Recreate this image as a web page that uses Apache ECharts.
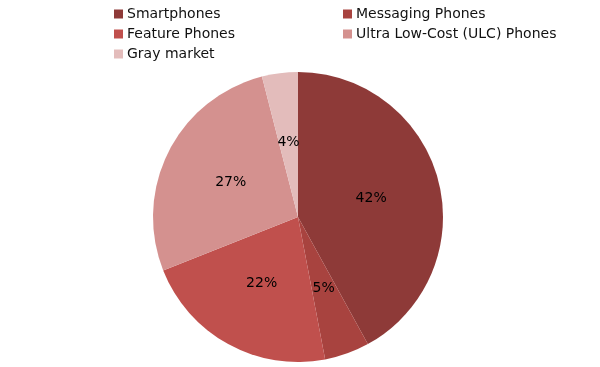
<!DOCTYPE html>
<html><head><meta charset="utf-8">
<script src="https://cdn.jsdelivr.net/npm/echarts@6/dist/echarts.min.js"></script>
<style>html,body{margin:0;padding:0;background:#fff}#c{width:600px;height:367px}</style>
</head><body><div id="c"></div>
<script>
const categories = ["Smartphones", "Messaging Phones", "Feature Phones", "Ultra Low-Cost (ULC) Phones", "Gray market"];
const values = [42, 5, 22, 27, 4];
const colors = ["#8E3A38", "#A8433F", "#C0504D", "#D4918F", "#E3BCBB"];
const legendCol1 = ["Smartphones", "Feature Phones", "Gray market"];
const legendCol2 = ["Messaging Phones", "Ultra Low-Cost (ULC) Phones"];

const chart = echarts.init(document.getElementById('c'), null, {renderer: 'canvas'});
const legendBase = {
  orient: 'vertical', top: 2, itemWidth: 9, itemHeight: 9, itemGap: 6,
  icon: 'rect', selectedMode: false,
  textStyle: {fontFamily: 'DejaVu Sans', fontSize: 14, color: '#111', padding: [0,0,0,-1]}
};
chart.setOption({
  animation: false,
  color: colors,
  legend: [
    Object.assign({}, legendBase, {left: 109, data: legendCol1}),
    Object.assign({}, legendBase, {left: 338, data: legendCol2})
  ],
  series: [{
    type: 'pie',
    center: [298, 217],
    radius: 145,
    startAngle: 90,
    clockwise: true,
    label: {show: true, position: 'inside', formatter: '{d}%', color: '#000', fontFamily: 'DejaVu Sans', fontSize: 14, padding: [6,0,0,0]},
    labelLine: {show: false},
    itemStyle: {borderWidth: 0},
    emphasis: {disabled: true},
    data: categories.map((n, i) => ({name: n, value: values[i]}))
  }]
});
</script></body></html>
